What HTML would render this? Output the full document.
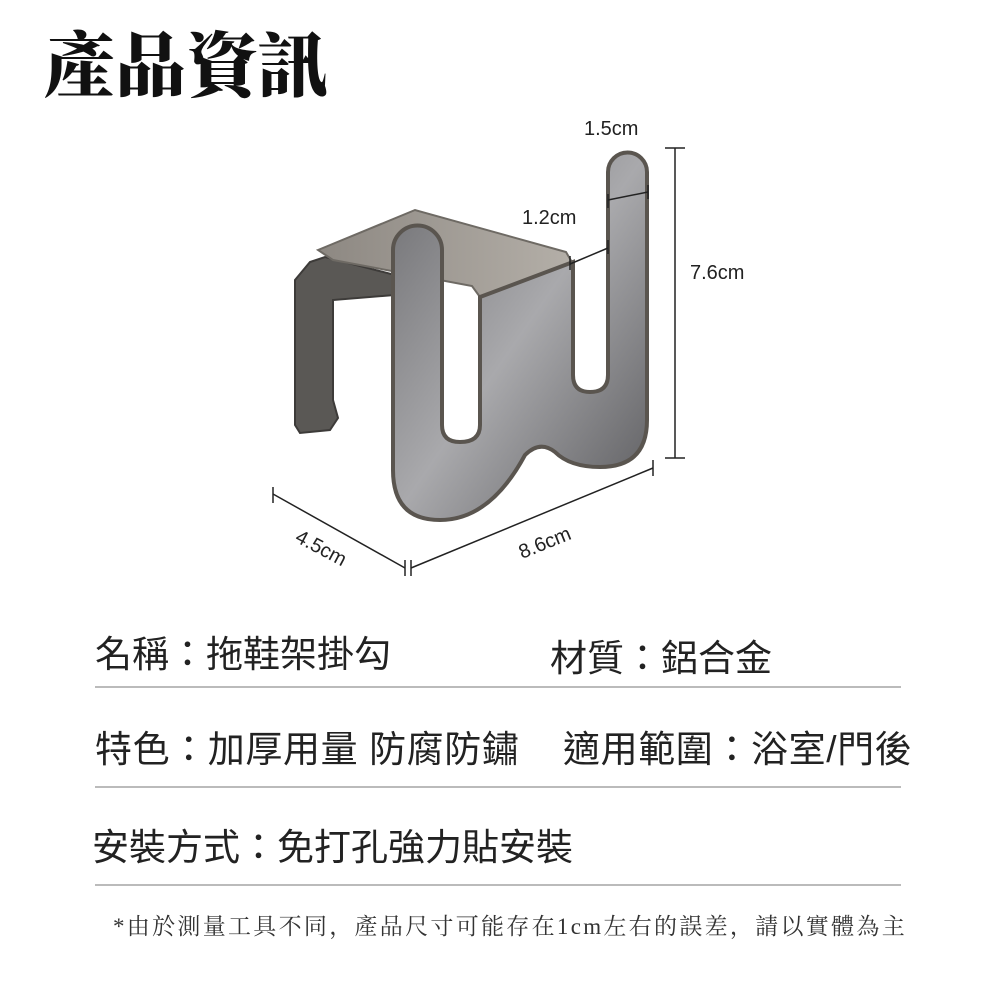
<!DOCTYPE html>
<html><head><meta charset="utf-8"><style>
body{margin:0;width:1000px;height:1000px;background:#fff;overflow:hidden;position:relative;font-family:"Liberation Sans","Noto Sans CJK TC",sans-serif;}
.t{position:absolute;white-space:nowrap;color:#222;}
.hr{position:absolute;left:95px;width:806px;height:2px;background:#bbb;}
</style></head><body>
<div class="t" style="left:44px;top:10px;font-size:71px;font-weight:900;font-family:'Noto Serif CJK SC','Noto Sans CJK TC',serif;color:#111;">產品資訊</div>
<svg width="1000" height="600" style="position:absolute;left:0;top:0" xmlns="http://www.w3.org/2000/svg">
<defs>
<linearGradient id="g1" x1="0" y1="0" x2="1" y2="1"><stop offset="0" stop-color="#6d6d70"/><stop offset="0.5" stop-color="#a9a9ac"/><stop offset="1" stop-color="#5b5b5e"/></linearGradient>
<linearGradient id="g2" x1="0" y1="0" x2="1" y2="0"><stop offset="0" stop-color="#8d8882"/><stop offset="1" stop-color="#b4afa8"/></linearGradient>
</defs>
<path d="M295,280 L310,262 L325,257 L395,275 L395,295 L333,300 L333,400 L338,418 L330,430 L300,433 L295,425 Z" fill="#5a5855" stroke="#3d3b39" stroke-width="2"/>
<polygon points="318,250 415,210 566,252 573,264 480,297 472,286 333,260" fill="url(#g2)" stroke="#6e6a64" stroke-width="2"/>
<path d="M393,250 A24.5,24.5 0 0 1 442,250 L442,425 Q442,442 460,442 Q480,442 480,425 L480,297 L573,262 L573,375 Q573,392 590,392 Q608,392 608,375 L608,172 A19.5,19.5 0 0 1 647,172 L647,420 Q647,467 600,467 Q570,467 555,452 Q540,440 525,455 Q490,520 440,520 Q393,520 393,470 Z" fill="url(#g1)" stroke="#5a554f" stroke-width="4"/>
<g stroke="#222" stroke-width="1.5" fill="none">
<line x1="665" y1="148" x2="685" y2="148"/><line x1="675" y1="148" x2="675" y2="458"/><line x1="665" y1="458" x2="685" y2="458"/>
<line x1="273" y1="487" x2="273" y2="503"/><line x1="273" y1="494" x2="405" y2="568"/><line x1="405" y1="560" x2="405" y2="576"/>
<line x1="411" y1="560" x2="411" y2="576"/><line x1="411" y1="568" x2="653" y2="468"/><line x1="653" y1="460" x2="653" y2="476"/>
<line x1="608" y1="200" x2="648" y2="192"/><line x1="608" y1="194" x2="608" y2="208"/><line x1="648" y1="185" x2="648" y2="199"/>
<line x1="570" y1="264" x2="608" y2="248"/><line x1="570" y1="256" x2="570" y2="270"/><line x1="608" y1="240" x2="608" y2="254"/>
</g>
<g font-family="Liberation Sans, sans-serif" font-size="20" fill="#222">
<text x="584" y="135">1.5cm</text>
<text x="522" y="224">1.2cm</text>
<text x="690" y="279">7.6cm</text>
<text x="0" y="0" transform="translate(294,541) rotate(28)">4.5cm</text>
<text x="0" y="0" transform="translate(522,559) rotate(-22)">8.6cm</text>
</g>
</svg>
<div class="t" style="left:95px;top:624px;font-size:37px;">名稱：拖鞋架掛勾</div>
<div class="t" style="left:550px;top:628px;font-size:37px;">材質：鋁合金</div>
<div class="hr" style="top:686px"></div>
<div class="t" style="left:95px;top:719px;font-size:37px;letter-spacing:0.6px;">特色：加厚用量 防腐防鏽&nbsp;&nbsp;&nbsp;&nbsp;適用範圍：浴室/門後</div>
<div class="hr" style="top:786px"></div>
<div class="t" style="left:92px;top:817px;font-size:37px;">安裝方式：免打孔強力貼安裝</div>
<div class="hr" style="top:884px"></div>
<div class="t" style="left:113px;top:908px;font-size:23px;letter-spacing:2.3px;font-family:'Liberation Serif','Noto Serif CJK SC',serif;color:#333;">*由於測量工具不同，產品尺寸可能存在1cm左右的誤差，請以實體為主</div>
</body></html>
